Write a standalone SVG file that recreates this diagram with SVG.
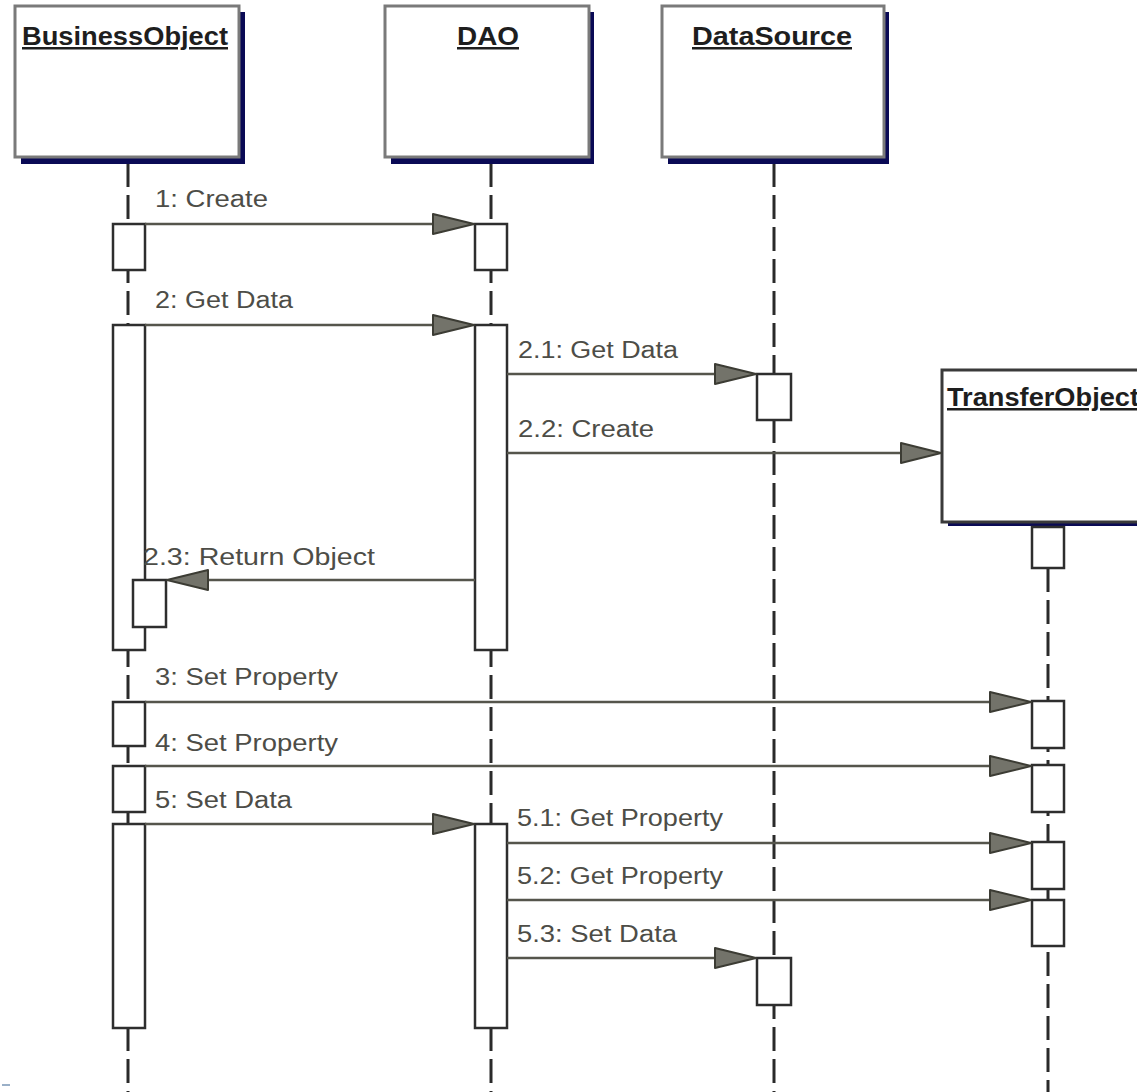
<svg xmlns="http://www.w3.org/2000/svg" width="1137" height="1092" viewBox="0 0 1137 1092">
<defs>
<style>
.shadow{fill:#0a0a55}
.box{fill:#ffffff;stroke:#7a7a7a;stroke-width:3}
.head{font-family:"Liberation Sans",Arial,sans-serif;font-weight:bold;font-size:25px;fill:#1e1e1e;text-decoration:underline}
.lbl{font-family:"Liberation Sans",Arial,sans-serif;font-size:23px;fill:#4d4d47}
.life{stroke:#2a2a2a;stroke-width:3;stroke-dasharray:24 8;fill:none}
.act{fill:#ffffff;stroke:#2e2e2e;stroke-width:2.5}
.msg{stroke:#55554c;stroke-width:2.5;fill:none}
.ah{fill:#73736a;stroke:#3c3c34;stroke-width:2;stroke-linejoin:round}
</style>
</defs>
<rect width="1137" height="1092" fill="#ffffff"/>

<g id="lifelines">
<line class="life" x1="128" y1="163" x2="128" y2="1092"/>
<line class="life" x1="491" y1="163" x2="491" y2="1092"/>
<line class="life" x1="774" y1="163" x2="774" y2="1092"/>
<line class="life" x1="1048" y1="568" x2="1048" y2="1092"/>
</g>

<g id="BusinessObject">
<rect class="shadow" x="21" y="12" width="224" height="152"/>
<rect class="box" x="15" y="6" width="224" height="151"/>
<text class="head" x="22" y="45" textLength="206" lengthAdjust="spacingAndGlyphs">BusinessObject</text>
</g>
<g id="DAO">
<rect class="shadow" x="391" y="12" width="203" height="152"/>
<rect class="box" x="385" y="6" width="204" height="151"/>
<text class="head" x="457" y="45" textLength="62" lengthAdjust="spacingAndGlyphs">DAO</text>
</g>
<g id="DataSource">
<rect class="shadow" x="668" y="12" width="221" height="152"/>
<rect class="box" x="662" y="6" width="222" height="151"/>
<text class="head" x="692" y="45" textLength="160" lengthAdjust="spacingAndGlyphs">DataSource</text>
</g>
<g id="TransferObject">
<rect class="shadow" x="948" y="376" width="200" height="150"/>
<rect class="box" x="942" y="370" width="200" height="152" style="stroke:#3a3a3a"/>
<text class="head" x="947" y="406" textLength="192" lengthAdjust="spacingAndGlyphs">TransferObject</text>
</g>

<g id="activations">
<rect class="act" x="113" y="224" width="32" height="46"/>
<rect class="act" x="475" y="224" width="32" height="46"/>
<rect class="act" x="113" y="325" width="32" height="325"/>
<rect class="act" x="475" y="325" width="32" height="325"/>
<rect class="act" x="757" y="374" width="34" height="46"/>
<rect class="act" x="133" y="580" width="33" height="47"/>
<rect class="act" x="1032" y="527" width="32" height="41"/>
<rect class="act" x="113" y="702" width="32" height="44"/>
<rect class="act" x="113" y="766" width="32" height="46"/>
<rect class="act" x="113" y="824" width="32" height="204"/>
<rect class="act" x="475" y="824" width="32" height="204"/>
<rect class="act" x="1032" y="701" width="32" height="47"/>
<rect class="act" x="1032" y="765" width="32" height="47"/>
<rect class="act" x="1032" y="842" width="32" height="47"/>
<rect class="act" x="1032" y="900" width="32" height="46"/>
<rect class="act" x="757" y="958" width="34" height="47"/>
</g>

<g id="connectors">
<line class="msg" x1="145" y1="224" x2="434" y2="224"/>
<polygon class="ah" points="474,224 433,214 433,234"/>
<line class="msg" x1="145" y1="325" x2="434" y2="325"/>
<polygon class="ah" points="474,325 433,315 433,335"/>
<line class="msg" x1="507" y1="374" x2="716" y2="374"/>
<polygon class="ah" points="756,374 715,364 715,384"/>
<line class="msg" x1="507" y1="453" x2="902" y2="453"/>
<polygon class="ah" points="941,453 901,443 901,463"/>
<line class="msg" x1="475" y1="580" x2="208" y2="580"/>
<polygon class="ah" points="167,580 208,570 208,590"/>
<line class="msg" x1="145" y1="702" x2="991" y2="702"/>
<polygon class="ah" points="1031,702 990,692 990,712"/>
<line class="msg" x1="145" y1="766" x2="991" y2="766"/>
<polygon class="ah" points="1031,766 990,756 990,776"/>
<line class="msg" x1="145" y1="824" x2="434" y2="824"/>
<polygon class="ah" points="474,824 433,814 433,834"/>
<line class="msg" x1="507" y1="843" x2="991" y2="843"/>
<polygon class="ah" points="1031,843 990,833 990,853"/>
<line class="msg" x1="507" y1="900" x2="991" y2="900"/>
<polygon class="ah" points="1031,900 990,890 990,910"/>
<line class="msg" x1="507" y1="958" x2="716" y2="958"/>
<polygon class="ah" points="756,958 715,948 715,968"/>
</g>

<g id="labels">
<text class="lbl" x="155" y="207" textLength="113" lengthAdjust="spacingAndGlyphs">1: Create</text>
<text class="lbl" x="155" y="308" textLength="138" lengthAdjust="spacingAndGlyphs">2: Get Data</text>
<text class="lbl" x="518" y="358" textLength="160" lengthAdjust="spacingAndGlyphs">2.1: Get Data</text>
<text class="lbl" x="518" y="437" textLength="136" lengthAdjust="spacingAndGlyphs">2.2: Create</text>
<text class="lbl" x="143" y="565" textLength="232" lengthAdjust="spacingAndGlyphs">2.3: Return Object</text>
<text class="lbl" x="155" y="685" textLength="183" lengthAdjust="spacingAndGlyphs">3: Set Property</text>
<text class="lbl" x="155" y="751" textLength="183" lengthAdjust="spacingAndGlyphs">4: Set Property</text>
<text class="lbl" x="155" y="808" textLength="137" lengthAdjust="spacingAndGlyphs">5: Set Data</text>
<text class="lbl" x="517" y="826" textLength="206" lengthAdjust="spacingAndGlyphs">5.1: Get Property</text>
<text class="lbl" x="517" y="884" textLength="206" lengthAdjust="spacingAndGlyphs">5.2: Get Property</text>
<text class="lbl" x="517" y="942" textLength="160" lengthAdjust="spacingAndGlyphs">5.3: Set Data</text>
</g>
<rect x="2" y="1084" width="8" height="2" fill="#9ab0c8"/>
</svg>
